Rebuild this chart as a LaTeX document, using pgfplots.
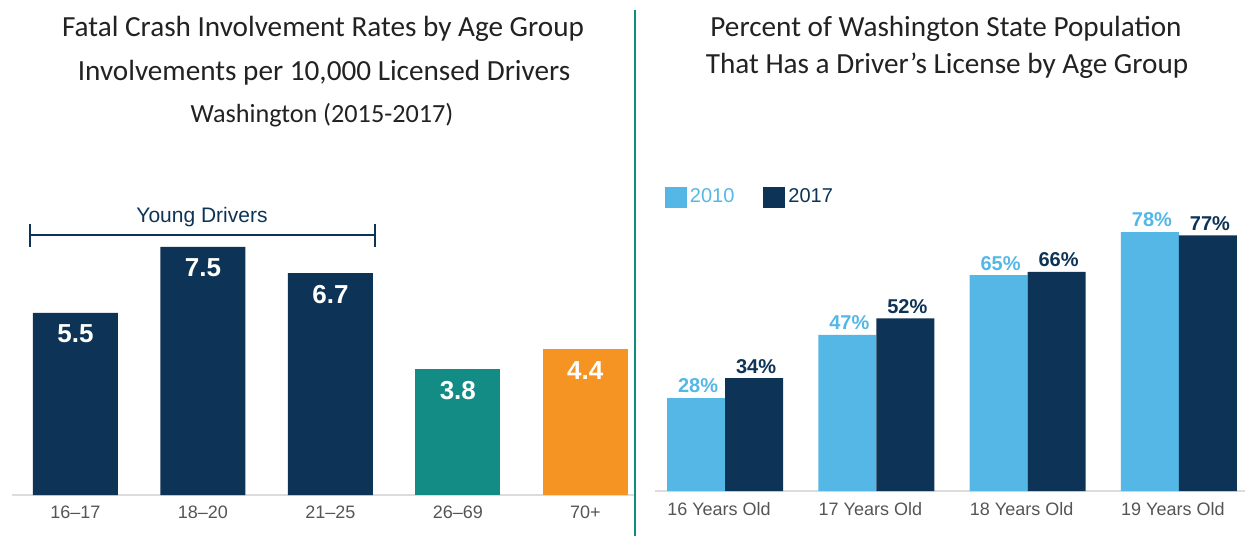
\documentclass[border=0pt]{standalone}
\usepackage{fontspec}
\setmainfont{Liberation Sans}
\newfontfamily\titlefont{Carlito}
\usepackage{pgfplots}
\pgfplotsset{compat=1.18}

\definecolor{navy}{HTML}{0D3356}
\definecolor{tealbar}{HTML}{128C84}
\definecolor{orangebar}{HTML}{F59422}
\definecolor{lightblue}{HTML}{55B7E6}
\definecolor{ticklbl}{HTML}{555555}
\definecolor{axisgray}{HTML}{DCDCDC}
\definecolor{divider}{HTML}{0E8C80}
\definecolor{titlegray}{HTML}{222222}

\pgfplotsset{
  /pgf/number format/assume math mode=true,
  barbase/.style={
    scale only axis,
    axis x line*=bottom,
    axis y line=none,
    x axis line style={axisgray, line width=0.75pt, -},
    major tick length=0pt,
    ymin=0,
    clip=false,
  },
}

\begin{document}
\begin{tikzpicture}
\useasboundingbox (0,0) rectangle (622.5pt,268pt);

% left: fatal crash involvement rates
\begin{axis}[barbase,
    at={(6pt,20.5pt)}, anchor=south west,
    width=311.5pt, height=132.4pt,
    xmin=-0.498, xmax=4.39, ymax=8,
    xtick={0,1,2,3,4},
    xticklabels={16--17,18--20,21--25,26--69,70+},
    xticklabel style={text=ticklbl, font=\fontsize{9}{10}\selectfont, anchor=center, yshift=-8.5pt},
    every node near coord/.append style={text=white, font=\bfseries\fontsize{13}{15}\selectfont, anchor=center, yshift=-10.5pt},
    nodes near coords={\pgfmathprintnumber[fixed,fixed zerofill,precision=1]{\pgfplotspointmeta}},
  ]
  \addplot[ybar, bar width=42.5pt, bar shift=0pt, fill=navy, draw=none] coordinates {(0,5.5)(1,7.5)(2,6.7)};
  \addplot[ybar, bar width=42.5pt, bar shift=0pt, fill=tealbar, draw=none] coordinates {(3,3.8)};
  \addplot[ybar, bar width=42.5pt, bar shift=0pt, fill=orangebar, draw=none] coordinates {(4,4.4)};
\end{axis}

% right: share of population with a licence
\begin{axis}[barbase,
    at={(327.5pt,22.5pt)}, anchor=south west,
    width=295pt, height=141.1pt,
    xmin=-0.463, xmax=3.437, ymax=85,
    xtick={0,1,2,3},
    xticklabels={16 Years Old,17 Years Old,18 Years Old,19 Years Old},
    xticklabel style={text=ticklbl, font=\fontsize{9}{10}\selectfont, anchor=center, yshift=-9pt, xshift=-3pt},
    nodes near coords={\pgfmathprintnumber{\pgfplotspointmeta}\%},
    legend style={at={(axis description cs:0.0162,1.083)}, anchor=north west, draw=none, fill=none,
      legend columns=2, font=\fontsize{10}{12}\selectfont, inner sep=0pt,
      nodes={inner sep=1.5pt},
      /tikz/every even column/.append style={column sep=13pt}},
  ]
  \addplot[ybar, bar width=29pt, bar shift=-14.5pt, fill=lightblue, draw=none,
    every node near coord/.append style={text=lightblue, font=\bfseries\fontsize{10}{12}\selectfont, anchor=center, yshift=6pt, xshift=-13.5pt},
    legend image code/.code={\fill[lightblue] (-1.5pt,-5.25pt) rectangle (9.5pt,5.25pt);}]
    coordinates {(0,28)(1,47)(2,65)(3,78)};
  \addlegendentry{\textcolor{lightblue}{2010}}
  \addplot[ybar, bar width=29pt, bar shift=14.5pt, fill=navy, draw=none,
    every node near coord/.append style={text=navy, font=\bfseries\fontsize{10}{12}\selectfont, anchor=center, yshift=6pt, xshift=15.5pt},
    legend image code/.code={\fill[navy] (-1.5pt,-5.25pt) rectangle (9.5pt,5.25pt);}]
    coordinates {(0,34)(1,52)(2,66)(3,77)};
  \addlegendentry{\textcolor{navy}{2017}}
\end{axis}

% titles, bracket and divider, in pixel units from the top left
\begin{scope}[x=0.5pt, y=-0.5pt, shift={(0pt,268pt)}]
  \begin{scope}[every node/.style={anchor=base, text=titlegray, inner sep=0pt}]
    \node[font=\titlefont\fontsize{14.6}{16}\selectfont] at (323,37) {Fatal Crash Involvement Rates by Age Group};
    \node[font=\titlefont\fontsize{14.6}{16}\selectfont] at (324,81) {Involvements per 10,000 Licensed Drivers};
    \node[font=\titlefont\fontsize{13.1}{15}\selectfont] at (322,123) {Washington (2015-2017)};
    \node[font=\titlefont\fontsize{14.6}{16}\selectfont] at (946,37) {Percent of Washington State Population};
    \node[font=\titlefont\fontsize{14.6}{16}\selectfont] at (947,74) {That Has a Driver’s License by Age Group};
  \end{scope}

  \draw[navy, line width=1.4pt] (30,235) -- (375,235);
  \draw[navy, line width=1.4pt] (30,224) -- (30,247);
  \draw[navy, line width=1.4pt] (375,224) -- (375,247);
  \node[text=navy, font=\fontsize{10.5}{12}\selectfont] at (202,217) {Young Drivers};

  \draw[divider, line width=1pt] (635,10) -- (635,202);
  \draw[divider, line width=0.6pt] (635,202) -- (635,525);
  \draw[divider, line width=1pt] (635,525) -- (635,536);
\end{scope}
\end{tikzpicture}
\end{document}
